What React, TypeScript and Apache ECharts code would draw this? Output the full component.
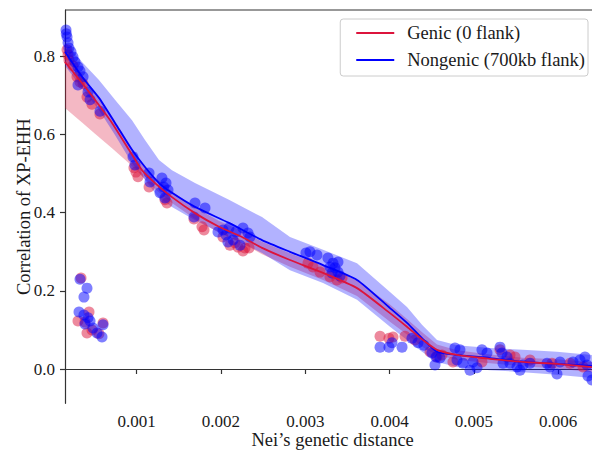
import React, { useEffect, useRef } from "react";
import * as echarts from "echarts";

// Axis ticks
const xTicks = [0.001, 0.002, 0.003, 0.004, 0.005, 0.006];
const yTicks = [0.0, 0.2, 0.4, 0.6, 0.8];

// Population pairs: [Nei's distance, correlation of XP-EHH] — genic windows
const genicPoints: [number, number][] = [
  [0.000174, 0.817], [0.000186, 0.804], [0.000197, 0.791], [0.000245, 0.776], [0.000292, 0.748],
  [0.000328, 0.735], [0.000364, 0.73], [0.000411, 0.696], [0.00047, 0.678], [0.000565, 0.653],
  [0.00034, 0.233], [0.000304, 0.123], [0.000435, 0.146], [0.000411, 0.092], [0.000601, 0.118],
  [0.00047, 0.1], [0.000553, 0.09], [0.000387, 0.12],
  [0.000968, 0.515], [0.000992, 0.504], [0.001016, 0.492], [0.001147, 0.466], [0.001336, 0.433],
  [0.00136, 0.425],
  [0.00168, 0.384], [0.001775, 0.364], [0.001799, 0.356],
  [0.002024, 0.338], [0.002107, 0.317], [0.002202, 0.312], [0.002285, 0.31], [0.002333, 0.31],
  [0.002166, 0.323], [0.002261, 0.302],
  [0.003032, 0.271], [0.003092, 0.261], [0.003175, 0.248], [0.003293, 0.236], [0.003376, 0.228],
  [0.003436, 0.233],
  [0.003887, 0.084], [0.003993, 0.079], [0.004041, 0.082], [0.004183, 0.084],
  [0.00448, 0.044], [0.004302, 0.074], [0.004563, 0.031],
  [0.004752, 0.018], [0.005096, 0.018], [0.005429, 0.036], [0.005488, 0.031], [0.005927, 0.015],
  [0.006141, 0.015], [0.006295, 0.005], [0.004622, 0.036], [0.00531, 0.049], [0.005666, 0.023],
];

// Same pairs — nongenic windows (700kb flank)
const nongenicPoints: [number, number][] = [
  [0.000162, 0.868], [0.000165, 0.858], [0.000174, 0.85], [0.000186, 0.835], [0.000197, 0.822],
  [0.000221, 0.812], [0.000245, 0.799], [0.000269, 0.786], [0.000304, 0.773], [0.000328, 0.763],
  [0.000364, 0.748], [0.000304, 0.727], [0.000423, 0.709], [0.000447, 0.689], [0.000565, 0.66],
  [0.000328, 0.23], [0.000411, 0.207], [0.000375, 0.184], [0.000316, 0.146], [0.000375, 0.138],
  [0.000423, 0.131], [0.000447, 0.123], [0.000387, 0.115], [0.000482, 0.105], [0.00053, 0.092],
  [0.000589, 0.082], [0.000601, 0.113],
  [0.000957, 0.543], [0.00098, 0.522], [0.001147, 0.502], [0.001158, 0.479], [0.0013, 0.489],
  [0.00132, 0.466], [0.001277, 0.451], [0.001336, 0.438], [0.001348, 0.476], [0.001372, 0.458],
  [0.001692, 0.425], [0.001811, 0.412], [0.00168, 0.389],
  [0.002024, 0.356], [0.002095, 0.361], [0.002178, 0.351], [0.002261, 0.361], [0.002321, 0.348],
  [0.002143, 0.33], [0.002083, 0.325], [0.002344, 0.338], [0.002226, 0.317], [0.001965, 0.351],
  [0.00206, 0.343],
  [0.003056, 0.3], [0.003139, 0.292], [0.003269, 0.284], [0.003329, 0.271], [0.003388, 0.274],
  [0.003293, 0.261], [0.003353, 0.259], [0.003388, 0.248], [0.003317, 0.246], [0.003412, 0.238],
  [0.003008, 0.297],
  [0.003887, 0.056], [0.003993, 0.056], [0.004029, 0.067], [0.004148, 0.056],
  [0.004266, 0.079], [0.004337, 0.067], [0.004408, 0.061], [0.004503, 0.041], [0.004551, 0.031],
  [0.004539, 0.01], [0.004598, 0.028],
  [0.004776, 0.054], [0.004835, 0.049], [0.0048, 0.023], [0.004871, 0.015], [0.00499, 0.018],
  [0.005037, 0.003], [0.004954, -0.003], [0.005096, 0.049], [0.005156, 0.041], [0.00531, 0.056],
  [0.005334, 0.041], [0.005393, 0.031], [0.005429, 0.015], [0.005346, 0.015], [0.005512, 0.005],
  [0.005583, 0.01], [0.005547, -0.003], [0.005666, 0.015], [0.005868, 0.015], [0.005903, 0.005],
  [0.005986, -0.013], [0.006022, 0.018], [0.006176, 0.018], [0.006259, 0.023], [0.006318, 0.031],
  [0.006342, 0.01], [0.006354, -0.018], [0.006401, -0.028],
];

// Fitted trend lines
const genicFit: [number, number][] = [
  [0.00015, 0.786], [0.000352, 0.732], [0.000506, 0.689], [0.000708, 0.63], [0.000909, 0.561],
  [0.001063, 0.509], [0.001218, 0.476], [0.001419, 0.44], [0.001692, 0.399], [0.001977, 0.364],
  [0.00225, 0.338], [0.002487, 0.31], [0.002819, 0.279], [0.003211, 0.246], [0.003614, 0.207],
  [0.004005, 0.143], [0.004207, 0.108], [0.004397, 0.074], [0.004563, 0.049], [0.0048, 0.036],
  [0.005192, 0.026], [0.005583, 0.018], [0.005986, 0.013], [0.006401, 0.005],
];
const nongenicFit: [number, number][] = [
  [0.00015, 0.812], [0.000352, 0.748], [0.000553, 0.694], [0.000743, 0.63], [0.000945, 0.561],
  [0.001099, 0.517], [0.001265, 0.476], [0.001419, 0.451], [0.001692, 0.415], [0.002095, 0.374],
  [0.002487, 0.33], [0.002819, 0.3], [0.003211, 0.266], [0.003614, 0.228], [0.004005, 0.156],
  [0.004207, 0.118], [0.004385, 0.079], [0.004563, 0.044], [0.0048, 0.036], [0.005192, 0.028],
  [0.005583, 0.018], [0.005986, 0.013], [0.006401, 0.008],
];

// Confidence bands: [distance, lower, upper]
const genicBand: [number, number, number][] = [
  [0.00015, 0.668, 0.81], [0.000352, 0.631, 0.752], [0.000506, 0.602, 0.705],
  [0.000708, 0.565, 0.647], [0.000909, 0.527, 0.578], [0.001063, 0.494, 0.524],
  [0.001218, 0.461, 0.491], [0.001419, 0.425, 0.455], [0.001692, 0.384, 0.414],
  [0.001977, 0.349, 0.379], [0.00225, 0.322, 0.354], [0.002487, 0.294, 0.326],
  [0.002819, 0.262, 0.296], [0.003211, 0.228, 0.264], [0.003614, 0.187, 0.227],
  [0.004005, 0.121, 0.165], [0.004207, 0.088, 0.128], [0.004397, 0.056, 0.092],
  [0.004563, 0.035, 0.063], [0.0048, 0.024, 0.048], [0.005192, 0.015, 0.037],
  [0.005583, 0.007, 0.029], [0.005986, 0.001, 0.025], [0.006401, -0.008, 0.018],
];
const nongenicBand: [number, number, number][] = [
  [0.00015, 0.776, 0.837], [0.000352, 0.719, 0.786], [0.000553, 0.663, 0.74],
  [0.000743, 0.599, 0.689], [0.000945, 0.527, 0.637], [0.001099, 0.484, 0.586],
  [0.001265, 0.438, 0.535], [0.001419, 0.415, 0.509], [0.001692, 0.381, 0.476],
  [0.002095, 0.338, 0.433], [0.002487, 0.297, 0.389], [0.002819, 0.253, 0.338],
  [0.003211, 0.22, 0.305], [0.003614, 0.177, 0.271], [0.004005, 0.108, 0.197],
  [0.004207, 0.074, 0.159], [0.004385, 0.044, 0.113], [0.004563, 0.018, 0.074],
  [0.0048, 0.005, 0.061], [0.005192, -0.003, 0.054], [0.005583, -0.008, 0.049],
  [0.005986, -0.015, 0.044], [0.006401, -0.023, 0.036],
];

const GENIC = "Genic (0 flank)";
const NONGENIC = "Nongenic (700kb flank)";
const RED = "#dc143c";
const BLUE = "#0000ff";
const SERIF = "Liberation Serif";
const INK = "#1a1a1a";
const SPINE = "#333333";

function bandSeries(id: string, band: [number, number, number][], fill: string) {
  return {
    type: "custom",
    id,
    name: id,
    silent: true,
    z: 1,
    data: [[band[0][0], band[0][1]]],
    renderItem: (_params: any, api: any) => {
      const upper = band.map(([x, , hi]) => api.coord([x, hi]));
      const lower = band
        .slice()
        .reverse()
        .map(([x, lo]) => api.coord([x, lo]));
      return {
        type: "polygon",
        shape: { points: upper.concat(lower) },
        style: { fill },
      };
    },
  };
}

const tickLabel = {
  fontFamily: SERIF,
  fontSize: 17,
  fontWeight: "normal",
  color: INK,
};

export default function App() {
  const ref = useRef<HTMLDivElement>(null);

  useEffect(() => {
    document.body.style.margin = "0";
    const chart = echarts.init(ref.current!, null, { renderer: "svg" });
    chart.setOption({
      animation: false,
      backgroundColor: "#ffffff",
      textStyle: { fontFamily: SERIF, fontSize: 17, color: INK },
      grid: {
        left: 65,
        top: 10,
        width: 535.3,
        height: 393.3,
        show: false,
        containLabel: false,
        outerBoundsMode: "none",
      },
      xAxis: {
        type: "value",
        min: 0.00015,
        max: 0.0065,
        name: "Nei\u2019s genetic distance",
        nameLocation: "middle",
        nameGap: 27,
        nameMoveOverlap: false,
        nameTextStyle: { fontFamily: SERIF, fontSize: 18.5, color: INK },
        axisLine: { show: true, lineStyle: { color: SPINE, width: 1.2 } },
        axisTick: {
          show: true,
          length: 5,
          lineStyle: { color: SPINE, width: 1.2 },
          customValues: xTicks,
        },
        axisLabel: {
          ...tickLabel,
          margin: 10,
          customValues: xTicks,
          formatter: (v: number) => v.toFixed(3),
        },
        splitLine: { show: false },
      },
      yAxis: {
        type: "value",
        min: -0.0878,
        max: 0.919,
        name: "Correlation of XP-EHH",
        nameLocation: "middle",
        nameGap: 32,
        nameMoveOverlap: false,
        nameTextStyle: { fontFamily: SERIF, fontSize: 18.5, color: INK },
        axisLine: { show: true, lineStyle: { color: SPINE, width: 1.2 } },
        axisTick: {
          show: true,
          length: 5,
          lineStyle: { color: SPINE, width: 1.2 },
          customValues: yTicks,
        },
        axisLabel: {
          ...tickLabel,
          margin: 10,
          customValues: yTicks,
          formatter: (v: number) => v.toFixed(1),
        },
        splitLine: { show: false },
      },
      // top spine
      graphic: [
        {
          type: "line",
          shape: { x1: 65, y1: 10, x2: 600, y2: 10 },
          style: { stroke: SPINE, lineWidth: 1.2 },
          z: 10,
        },
      ],
      legend: {
        data: [GENIC, NONGENIC],
        orient: "vertical",
        right: 4,
        top: 19,
        icon: "rect",
        itemWidth: 38,
        itemHeight: 2,
        itemGap: 7,
        padding: [4, 3, 6, 16],
        backgroundColor: "rgba(255,255,255,0.85)",
        borderColor: "#cccccc",
        borderWidth: 1,
        borderRadius: 3,
        textStyle: {
          fontFamily: SERIF,
          fontSize: 18.5,
          color: INK,
          lineHeight: 20,
          padding: [0, 0, 0, 8],
        },
      },
      series: [
        bandSeries("genic-band", genicBand, "rgba(220,20,60,0.3)"),
        bandSeries("nongenic-band", nongenicBand, "rgba(0,0,255,0.3)"),
        {
          type: "scatter",
          name: "genic-points",
          data: genicPoints,
          symbolSize: 11,
          itemStyle: { color: RED, opacity: 0.5 },
          z: 2,
          silent: true,
        },
        {
          type: "scatter",
          name: "nongenic-points",
          data: nongenicPoints,
          symbolSize: 11,
          itemStyle: { color: BLUE, opacity: 0.5 },
          z: 2,
          silent: true,
        },
        {
          type: "line",
          name: NONGENIC,
          data: nongenicFit,
          symbol: "none",
          smooth: 0.2,
          lineStyle: { color: BLUE, width: 1.8 },
          itemStyle: { color: BLUE },
          z: 3,
        },
        {
          type: "line",
          name: GENIC,
          data: genicFit,
          symbol: "none",
          smooth: 0.2,
          lineStyle: { color: RED, width: 1.8 },
          itemStyle: { color: RED },
          z: 3,
        },
      ],
    });
    return () => chart.dispose();
  }, []);

  return <div ref={ref} style={{ width: 592, height: 452 }} />;
}
